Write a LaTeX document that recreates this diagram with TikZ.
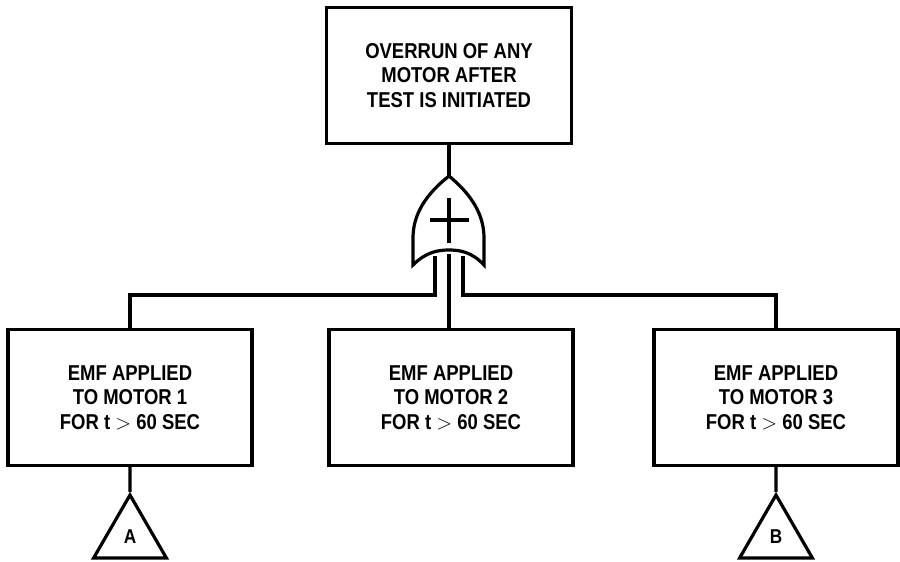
\documentclass[tikz,border=0pt]{standalone}
\usepackage{fontspec}
\setmainfont{Liberation Sans}[FakeStretch=0.86]
\usetikzlibrary{shapes.geometric}

\begin{document}
\begin{tikzpicture}[x=1pt,y=-1pt,line width=3.2pt,
  event/.style={draw,rectangle,align=center,inner sep=0pt,
    minimum width=244pt,minimum height=136pt,
    font=\bfseries\fontsize{21.5}{24.5}\selectfont},
  xfer/.style={draw,regular polygon,regular polygon sides=3,
    minimum size=84pt,inner sep=0pt,
    font=\bfseries\fontsize{20}{20}\selectfont}]
\useasboundingbox (0,0) rectangle (900,562);
% top event
\node[event,minimum width=245pt] (top) at (449,75.5) {OVERRUN OF ANY\\MOTOR AFTER\\TEST IS INITIATED};
% basic events
\node[event] (emf1) at (130,397.5) {EMF APPLIED\\TO MOTOR 1\\FOR t $>$ 60 SEC};
\node[event] (emf2) at (451,397.5) {EMF APPLIED\\TO MOTOR 2\\FOR t $>$ 60 SEC};
\node[event] (emf3) at (776,397.5) {EMF APPLIED\\TO MOTOR 3\\FOR t $>$ 60 SEC};
% transfers
\node[xfer] (xferA) at (130,537) {A};
\node[xfer] (xferB) at (776,537) {B};
% OR gate points
\coordinate (gate) at (449,176);
\coordinate (gin1) at (435,256);
\coordinate (gin2) at (449,254);
\coordinate (gin3) at (463,256);
\coordinate (bus) at (0,295);
% connectors
\draw (top.south) -- (gate);
\draw (gin1) |- (emf1.north |- bus) -- (emf1.north);
\draw (gin2) -- (gin2 |- emf2.north);
\draw (gin3) |- (emf3.north |- bus) -- (emf3.north);
\draw (emf1.south) -- (xferA.north);
\draw (emf3.south) -- (xferB.north);
% gate body
\draw[fill=white] (gate) .. controls (425,195) and (413,215) .. (413,238) -- (413,265)
  .. controls (426,252) and (438,250) .. (449,250)
  .. controls (460,250) and (472,252) .. (484,265) -- (484,238)
  .. controls (484,215) and (472,195) .. (gate) -- cycle;
\draw (430,220) -- (469,220) (449,198) -- (449,243);
\end{tikzpicture}
\end{document}
